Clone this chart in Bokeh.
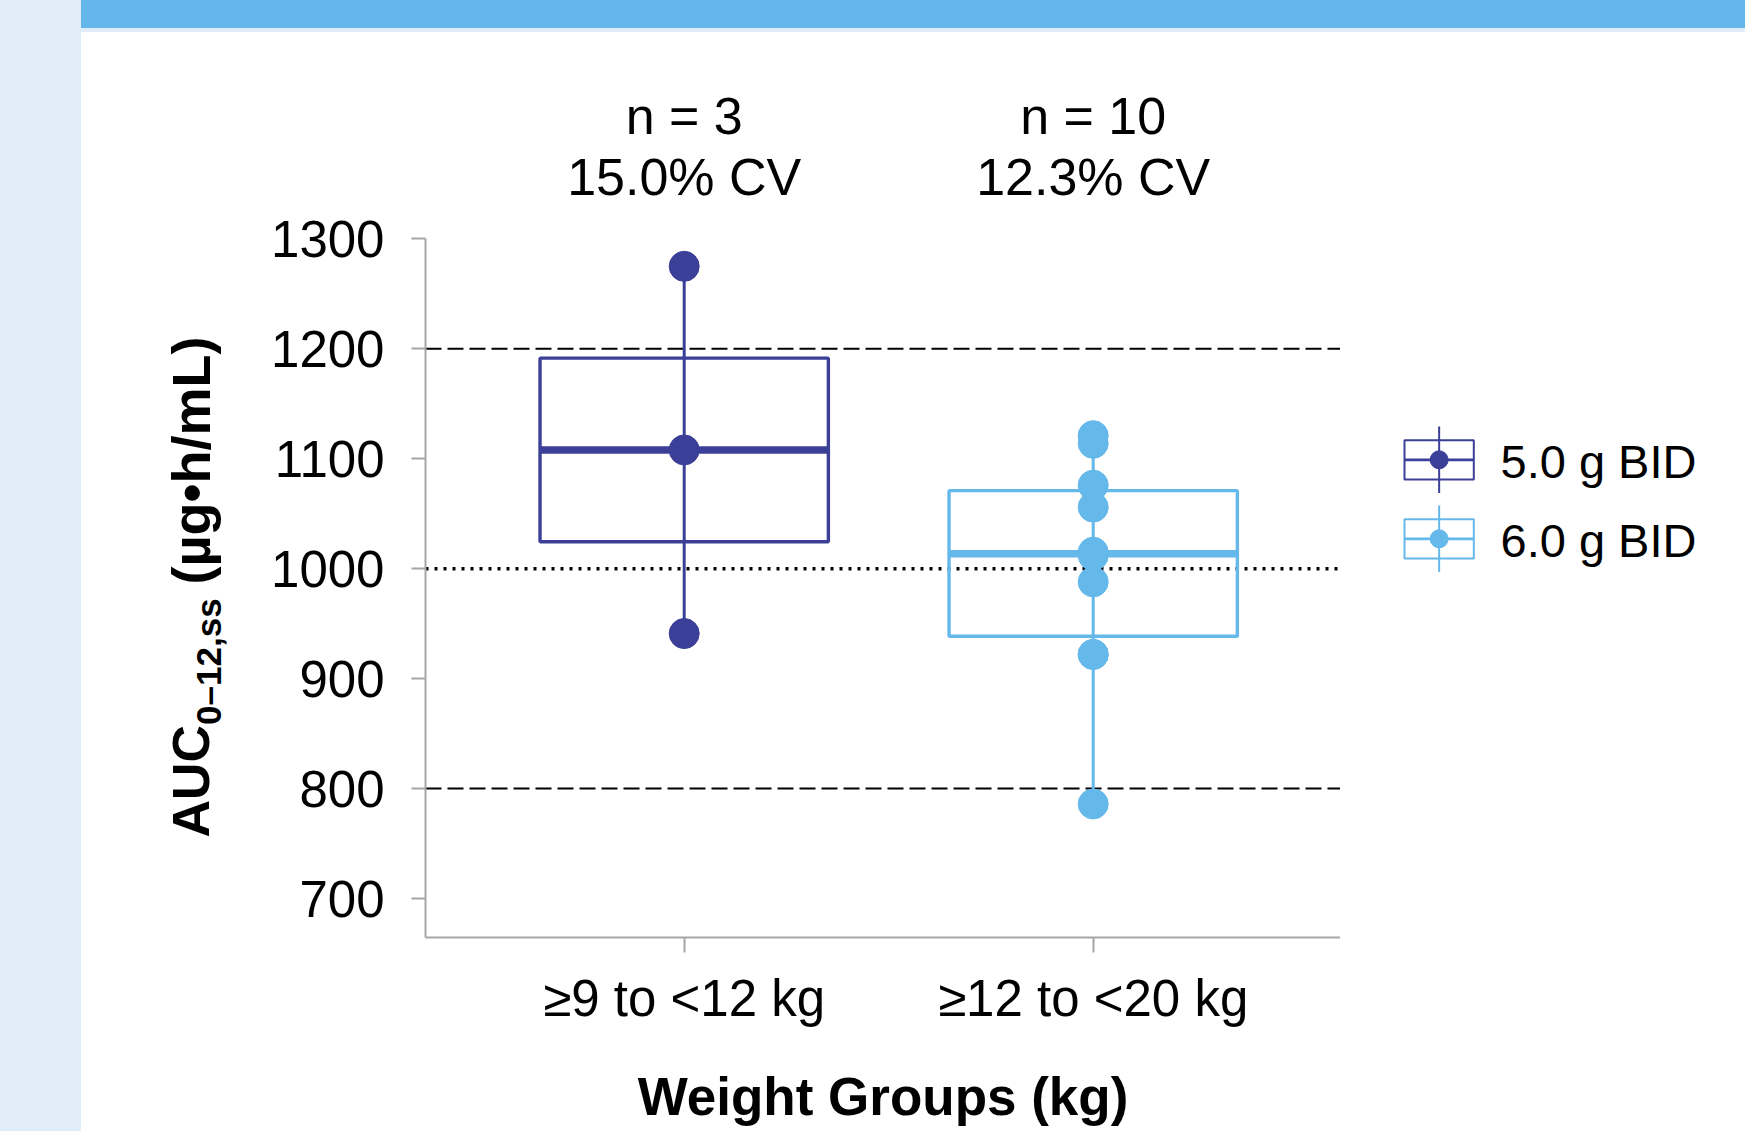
import math
import numpy as np
from bokeh.plotting import figure
from bokeh.models import FixedTicker, Range1d, Div
from bokeh.layouts import row, column
from bokeh.embed import file_html
from bokeh.resources import INLINE
from bokeh.core.properties import value

# ---------------- data ----------------
groups = ["≥9 to <12 kg", "≥12 to <20 kg"]
series = ["5.0 g BID", "6.0 g BID"]
n_labels = ["n = 3", "n = 10"]
cv_labels = ["15.0% CV", "12.3% CV"]
auc_5g = [941, 1108, 1275]
auc_6g = [786, 922, 922, 988, 1012, 1015, 1056, 1076, 1114, 1121]
ref_dashed = [800, 1200]
ref_dotted = [1000]
y_ticks = [700, 800, 900, 1000, 1100, 1200, 1300]
colors = ["#3B3F98", "#65B8EA"]
y_title = ["AUC", "0–12,ss", "(µg•h/mL)"]
x_title = "Weight Groups (kg)"

FONT = "Liberation Sans"
SIDEBAR = "#E0ECF8"
BANNER = "#63B7EB"
AXIS_GREY = "#A6A6A6"

# ---------------- page geometry (page pixels) ----------------
PAGE_W, PAGE_H = 1745, 1131
SIDE_R = 81          # right edge of the sidebar
BANNER_B = 28        # bottom of blue banner
STRIP_B = 32         # bottom of light strip
MAIN_L = 265         # left edge of the main figure
FRAME_L, FRAME_R = 425, 1340
FRAME_T, FRAME_B = STRIP_B, 937
X1_PX, X_UNIT = 683.7, 409.0         # pixel of category 1, px per category
Y1000_PX, Y_UNIT = 568.2, 1.0995     # pixel of y=1000, px per unit

row_h = PAGE_H - STRIP_B
bottom_border = PAGE_H - FRAME_B


def px_x(X):
    return 1 + (X - X1_PX) / X_UNIT


def px_y(Y):
    return 1000 + (Y1000_PX - Y) / Y_UNIT


x_lo, x_hi = px_x(FRAME_L), px_x(FRAME_R)
y_lo, y_hi = px_y(FRAME_B), px_y(FRAME_T)


def bare_fig(width, x0, x1):
    f = figure(width=width, height=row_h,
               x_range=Range1d(x0, x1), y_range=Range1d(FRAME_B, FRAME_T),
               x_axis_location=None, y_axis_location=None,
               output_backend="svg", toolbar_location=None,
               min_border_left=0, min_border_right=0,
               min_border_top=0, min_border_bottom=bottom_border)
    f.outline_line_color = None
    f.background_fill_color = "white"
    f.border_fill_color = "white"
    f.grid.visible = False
    return f


# ---------------- main plot ----------------
p_main = figure(width=FRAME_R - MAIN_L, height=row_h,
                x_range=Range1d(x_lo, x_hi), y_range=Range1d(y_lo, y_hi),
                output_backend="svg", toolbar_location=None,
                min_border_left=FRAME_L - MAIN_L, min_border_right=0,
                min_border_top=0, min_border_bottom=bottom_border)
p_main.outline_line_color = None
p_main.background_fill_color = "white"
p_main.border_fill_color = "white"
p_main.xgrid.visible = False
p_main.ygrid.visible = False

# reference lines
p_main.segment(x0=[x_lo] * len(ref_dashed), y0=ref_dashed,
               x1=[x_hi] * len(ref_dashed), y1=ref_dashed,
               line_color="black", line_width=2, line_dash="16 6")
p_main.segment(x0=[x_lo] * len(ref_dotted), y0=ref_dotted,
               x1=[x_hi] * len(ref_dotted), y1=ref_dotted,
               line_color="black", line_width=3.5, line_dash="3 6")

# boxes
BOX_W = 0.705
for i, vals in enumerate([auc_5g, auc_6g]):
    pos = i + 1
    c = colors[i]
    q1, med, q3 = np.percentile(vals, [25, 50, 75])
    p_main.segment(x0=[pos], y0=[min(vals)], x1=[pos], y1=[max(vals)],
                   line_color=c, line_width=3)
    p_main.quad(left=[pos - BOX_W / 2], right=[pos + BOX_W / 2], bottom=[q1], top=[q3],
                fill_color=None, line_color=c, line_width=3.4)
    p_main.segment(x0=[pos - BOX_W / 2], y0=[med], x1=[pos + BOX_W / 2], y1=[med],
                   line_color=c, line_width=7.5)
    p_main.scatter(x=[pos] * len(vals), y=vals, size=30, marker="circle",
                   fill_color=c, line_color=c)

# n / CV annotations
p_main.text(x=[1, 2], y=[px_y(115.5)] * 2, text=n_labels, text_align="center",
            text_baseline="middle", text_font=value(FONT), text_font_size="52px",
            text_color="black")
p_main.text(x=[1, 2], y=[px_y(176.3)] * 2, text=cv_labels, text_align="center",
            text_baseline="middle", text_font=value(FONT), text_font_size="52px",
            text_color="black")

# axes
xa = p_main.xaxis[0]
xa.ticker = FixedTicker(ticks=[1, 2])
xa.major_label_overrides = {1: groups[0], 2: groups[1]}
xa.axis_line_color = AXIS_GREY
xa.axis_line_width = 2
xa.major_tick_line_color = AXIS_GREY
xa.major_tick_line_width = 2
xa.major_tick_out = 15
xa.major_tick_in = 0
xa.minor_tick_line_color = None
xa.major_label_text_font = FONT
xa.major_label_text_font_size = "51px"
xa.major_label_text_color = "black"
xa.major_label_standoff = 17
xa.axis_label = x_title
xa.axis_label_text_font = FONT
xa.axis_label_text_font_style = "bold"
xa.axis_label_text_font_size = "53px"
xa.axis_label_text_color = "black"
xa.axis_label_standoff = 37

ya = p_main.yaxis[0]
ya.ticker = FixedTicker(ticks=y_ticks)
ya.bounds = (y_lo, max(y_ticks))
ya.axis_line_color = AXIS_GREY
ya.axis_line_width = 2
ya.major_tick_line_color = AXIS_GREY
ya.major_tick_line_width = 2
ya.major_tick_out = 14
ya.major_tick_in = 0
ya.minor_tick_line_color = None
ya.major_label_text_font = FONT
ya.major_label_text_font_size = "51px"
ya.major_label_text_color = "black"
ya.major_label_standoff = 27

# ---------------- y-axis title (with subscript), in its own strip ----------------
p_yt = bare_fig(MAIN_L - SIDE_R, SIDE_R, MAIN_L)
# pieces run bottom-to-top; cap centres and start positions in page px
yt_x = [190.7, 207.5, 190.0]
yt_y = [837, 724.4, 584.0]
yt_size = ["52px", "35px", "54px"]
for t, xx, yy, fs in zip(y_title, yt_x, yt_y, yt_size):
    p_yt.text(x=[xx], y=[yy], text=[t], angle=math.pi / 2, text_align="left",
              text_baseline="middle", text_font=value(FONT), text_font_style="bold",
              text_font_size=fs, text_color="black")

# ---------------- legend, in its own strip ----------------
p_leg = bare_fig(PAGE_W - FRAME_R, FRAME_R, PAGE_W)
leg_y_px = [459.3, 538.3]
LB_L, LB_R, LB_H = 1404, 1473.3, 39.3
LB_C = (LB_L + LB_R) / 2
for i, name in enumerate(series):
    c = colors[i]
    yc = leg_y_px[i]
    p_leg.segment(x0=[LB_C], y0=[yc + 33.3], x1=[LB_C], y1=[yc - 33.3],
                  line_color=c, line_width=2)
    p_leg.quad(left=[LB_L], right=[LB_R], bottom=[yc + LB_H / 2], top=[yc - LB_H / 2],
               fill_color=None, line_color=c, line_width=2)
    p_leg.segment(x0=[LB_L], y0=[yc], x1=[LB_R], y1=[yc], line_color=c, line_width=2.7)
    p_leg.scatter(x=[LB_C], y=[yc], size=18, marker="circle", fill_color=c, line_color=c)
    p_leg.text(x=[1500], y=[yc + 1.7], text=[name], text_align="left",
               text_baseline="middle", text_font=value(FONT), text_font_size="47px",
               text_color="black")

# ---------------- page furniture ----------------
side = Div(text="", width=SIDE_R, height=PAGE_H, margin=0,
           styles={"background-color": SIDEBAR, "padding": "0px"})
banner = Div(text="", width=PAGE_W - SIDE_R, height=BANNER_B, margin=0,
             styles={"background-color": BANNER, "padding": "0px"})
strip = Div(text="", width=PAGE_W - SIDE_R, height=STRIP_B - BANNER_B, margin=0,
            styles={"background-color": SIDEBAR, "padding": "0px"})

p = row(side, column(banner, strip, row(p_yt, p_main, p_leg, spacing=0), spacing=0), spacing=0)

open("out.html", "w").write(file_html(p, INLINE))
